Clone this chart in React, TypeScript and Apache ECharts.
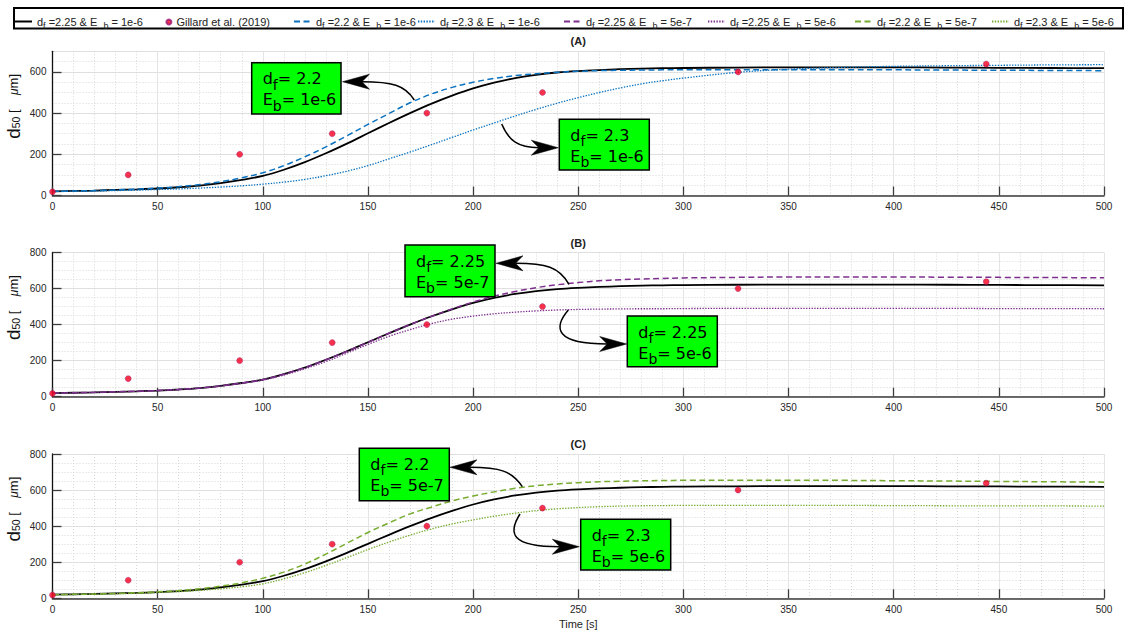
import React, { useEffect, useRef } from "react";
import * as echarts from "echarts";

// ---------- data ----------
const T = [0, 10, 20, 30, 40, 50, 60, 70, 80, 90, 100, 110, 120, 130, 140, 150, 160, 170, 180, 190, 200, 210, 220, 230, 240, 250, 260, 270, 280, 290, 300, 325, 350, 375, 400, 425, 450, 475, 500];

// d_f = 2.25 & E_b = 1e-6 (reference, black)
const BLACK = [20, 22, 24, 27, 30, 34, 40, 48, 60, 76, 95, 125, 162, 205, 252, 302, 352, 400, 445, 485, 520, 548, 570, 586, 597, 604, 609, 613, 616, 618, 619, 621, 622, 622, 622, 621, 620, 619, 618];
// d_f = 2.2 & E_b = 1e-6
const BLUE_DASH = [20, 22, 24, 27, 31, 36, 43, 53, 67, 86, 110, 145, 188, 236, 290, 345, 398, 450, 492, 525, 550, 568, 582, 591, 598, 603, 606, 608, 609, 610, 611, 611, 611, 610, 610, 609, 608, 607, 606];
// d_f = 2.3 & E_b = 1e-6
const BLUE_DOT = [20, 21, 22, 24, 26, 29, 32, 36, 41, 47, 55, 65, 78, 96, 118, 145, 178, 211, 246, 282, 318, 352, 386, 418, 448, 475, 500, 522, 542, 557, 570, 597, 613, 622, 627, 630, 632, 634, 635];
// d_f = 2.25 & E_b = 5e-7
const PURPLE_DASH = [20, 22, 24, 27, 30, 34, 40, 48, 60, 76, 95, 125, 162, 205, 252, 302, 352, 400, 445, 487, 525, 558, 584, 605, 621, 633, 643, 649, 653, 656, 659, 662, 664, 664, 664, 663, 662, 661, 660];
// d_f = 2.25 & E_b = 5e-6
const PURPLE_DOT = [20, 22, 24, 27, 30, 34, 40, 48, 59, 74, 92, 120, 155, 195, 242, 290, 335, 372, 405, 430, 447, 460, 469, 476, 481, 484, 486, 487, 488, 488, 489, 490, 490, 490, 490, 490, 489, 489, 488];
// d_f = 2.2 & E_b = 5e-7
const GREEN_DASH = [20, 22, 24, 27, 31, 36, 43, 53, 67, 86, 111, 145, 190, 245, 305, 365, 418, 468, 505, 540, 567, 590, 610, 624, 634, 641, 646, 649, 651, 653, 654, 655, 655, 654, 652, 650, 648, 646, 644];
// d_f = 2.3 & E_b = 5e-6
const GREEN_DOT = [20, 21, 23, 25, 28, 32, 37, 44, 53, 64, 80, 108, 142, 182, 226, 270, 312, 350, 384, 412, 434, 455, 472, 486, 496, 503, 508, 511, 513, 514, 515, 515, 515, 515, 514, 513, 512, 512, 511];

// Gillard et al. (2019)
const GILLARD_T = [0, 36, 89, 133, 178, 233, 326, 444];
const GILLARD_V = [18, 100, 200, 300, 400, 500, 600, 638];

const X_TICKS = { min: 0, max: 500, interval: 50 };
const PANEL_TITLES = ["(A)", "(B)", "(C)"];
const Y_MAX = [700, 800, 800];

const NAMES = ["k", "gil", "a_dash", "a_dot", "b_dash", "b_dot", "c_dash", "c_dot"];
const LEGEND_TEXT = [
  "{n|d}{s|f}{n| =2.25 & E  }{s|b}{n| = 1e-6}",
  "{n|Gillard et al. (2019)}",
  "{n|d}{s|f}{n| =2.2 & E  }{s|b}{n| = 1e-6}",
  "{n|d}{s|f}{n| =2.3 & E  }{s|b}{n| = 1e-6}",
  "{n|d}{s|f}{n| =2.25 & E  }{s|b}{n| = 5e-7}",
  "{n|d}{s|f}{n| =2.25 & E  }{s|b}{n| = 5e-6}",
  "{n|d}{s|f}{n| =2.2 & E  }{s|b}{n| = 5e-7}",
  "{n|d}{s|f}{n| =2.3 & E  }{s|b}{n| = 5e-6}",
];

// ---------- styles / layout ----------
const FONT = "'Liberation Sans', Arial, sans-serif";
const BOXFONT = "'DejaVu Sans', sans-serif";
const BLUE = "#0a72bf";
const PURPLE = "#7E2F8E";
const GREEN = "#77AC30";
const DASH = [6, 3.5];
const DOT = [1.4, 1.4];

const GRIDS = [
  { top: 51.3, height: 144.2 },
  { top: 252.5, height: 144.2 },
  { top: 454, height: 144.3 },
];
const GRID_LEFT = 52.5;
const GRID_RIGHT = 22;

const LEGEND_LEFT = [14, 165.4, 293, 417, 563, 707, 854, 991];

const ANNOTS = [
  { box: [251.7, 62.7, 89.3, 51.3], df: "2.2", eb: "1e-6", p0: [414.3, 100], c1: [405, 85], c2: [392, 81.7], tip: [342.5, 81.7], dir: -1 },
  { box: [559.3, 119.3, 90, 50.7], df: "2.3", eb: "1e-6", p0: [501.7, 124], c1: [509, 141], c2: [518, 147.7], tip: [558.3, 147.7], dir: 1 },
  { box: [405, 245, 90, 51.7], df: "2.25", eb: "5e-7", p0: [569, 284.3], c1: [559, 267], c2: [546, 263.3], tip: [496, 263.3], dir: -1 },
  { box: [627.3, 316, 90, 50.7], df: "2.25", eb: "5e-6", p0: [568.3, 310], c1: [553, 328], c2: [555, 344], tip: [626.7, 344], dir: 1 },
  { box: [359.3, 448.3, 90, 52.4], df: "2.2", eb: "5e-7", p0: [522.3, 486.7], c1: [512, 471], c2: [500, 467.3], tip: [450, 467.3], dir: -1 },
  { box: [580.7, 519.3, 90, 50.7], df: "2.3", eb: "5e-6", p0: [520, 514], c1: [508, 533], c2: [510, 546.7], tip: [579.3, 546.7], dir: 1 },
];

function pairs(xs: number[], ys: number[]) {
  return xs.map((x, i) => [x, ys[i]]);
}

function buildOption() {
  const grid = GRIDS.map((g) => ({
    left: GRID_LEFT,
    right: GRID_RIGHT,
    top: g.top,
    height: g.height,
    containLabel: false,
    outerBoundsMode: "none",
  }));

  const xAxis = GRIDS.map((_, g) => ({
    type: "value",
    gridIndex: g,
    min: X_TICKS.min,
    max: X_TICKS.max,
    interval: X_TICKS.interval,
    axisLine: { show: true, onZero: false, lineStyle: { color: "#3c3c3c", width: 1.6 } },
    axisTick: { show: true, inside: true, length: 9, lineStyle: { color: "#3c3c3c", width: 1.3 } },
    axisLabel: { fontSize: 10, color: "#262626", margin: 6, fontFamily: FONT },
    splitLine: { show: true, lineStyle: { color: "#e4e4e4", width: 1 } },
    minorTick: { show: false, splitNumber: 5 },
    minorSplitLine: { show: true, lineStyle: { color: "#d6d6d6", width: 1, type: [1, 2] } },
    name: g === 2 ? "Time [s]" : "",
    nameLocation: "middle",
    nameGap: 20,
    nameTextStyle: { fontSize: 11, color: "#262626", fontFamily: FONT },
  }));

  const yAxis: any[] = [];
  GRIDS.forEach((_, g) => {
    yAxis.push({
      type: "value",
      gridIndex: g,
      min: 0,
      max: Y_MAX[g],
      interval: 200,
      position: "left",
      axisLine: { show: true, onZero: false, lineStyle: { color: "#111", width: 1.3 } },
      axisTick: { show: true, inside: true, length: 9, lineStyle: { color: "#3c3c3c", width: 1.3 } },
      axisLabel: { fontSize: 10, color: "#262626", margin: 6, fontFamily: FONT, showMaxLabel: g !== 0 },
      splitLine: { show: true, lineStyle: { color: "#e4e4e4", width: 1 } },
      name: "{d|d}{s|50}{n| [    }{i|μ}{n|m]}",
      nameLocation: "middle",
      nameGap: 29,
      nameMoveOverlap: false,
      nameRotate: 90,
      nameTextStyle: {
        color: "#111",
        fontFamily: FONT,
        padding: [0, 0, 0, 34],
        rich: {
          d: { fontSize: 19, fontFamily: FONT, color: "#111", lineHeight: 20 },
          s: { fontSize: 10.5, fontFamily: FONT, color: "#111", lineHeight: 20, padding: [5, 0, 0, 0] },
          n: { fontSize: 13, fontFamily: FONT, color: "#111", lineHeight: 20 },
          i: { fontSize: 12, fontFamily: FONT, fontStyle: "italic", color: "#111", lineHeight: 20 },
        },
      },
    });
    yAxis.push({
      type: "value",
      gridIndex: g,
      min: 0,
      max: Y_MAX[g],
      interval: 50,
      position: "right",
      axisLine: { show: false },
      axisTick: { show: false },
      axisLabel: { show: false },
      splitLine: { show: true, lineStyle: { color: "#d6d6d6", width: 1, type: [1, 2] } },
    });
  });

  const panels = [
    { dash: BLUE_DASH, dot: BLUE_DOT, color: BLUE, dashName: NAMES[2], dotName: NAMES[3] },
    { dash: PURPLE_DASH, dot: PURPLE_DOT, color: PURPLE, dashName: NAMES[4], dotName: NAMES[5] },
    { dash: GREEN_DASH, dot: GREEN_DOT, color: GREEN, dashName: NAMES[6], dotName: NAMES[7] },
  ];

  const series: any[] = [];
  panels.forEach((p, g) => {
    const common = {
      type: "line",
      xAxisIndex: g,
      yAxisIndex: g * 2,
      showSymbol: false,
      symbol: "none",
      smooth: 0.35,
      emphasis: { disabled: true },
      silent: true,
    };
    series.push({ ...common, name: NAMES[0], data: pairs(T, BLACK), lineStyle: { color: "#000", width: 1.8, type: "solid" }, itemStyle: { color: "#000" }, z: 2 });
    series.push({ ...common, name: p.dashName, data: pairs(T, p.dash), lineStyle: { color: p.color, width: 1.5, type: DASH }, itemStyle: { color: p.color }, z: 3 });
    series.push({ ...common, name: p.dotName, data: pairs(T, p.dot), lineStyle: { color: p.color, width: 1.3, type: DOT }, itemStyle: { color: p.color }, z: 3 });
    series.push({
      type: "scatter",
      name: NAMES[1],
      xAxisIndex: g,
      yAxisIndex: g * 2,
      data: pairs(GILLARD_T, GILLARD_V),
      symbol: "circle",
      symbolSize: 6,
      itemStyle: { color: "#f5001e", borderColor: "#9a1a7a", borderWidth: 0.5 },
      emphasis: { disabled: true },
      silent: true,
      z: 5,
    });
  });

  const legendRich = {
    n: { fontSize: 11, fontFamily: FONT, color: "#222", lineHeight: 14 },
    s: { fontSize: 9, fontFamily: FONT, color: "#222", lineHeight: 14, padding: [8, 0, 0, 0] },
  };
  const legend = NAMES.map((name, i) => ({
    show: true,
    data: [name],
    left: LEGEND_LEFT[i],
    top: i === 1 ? 16.5 : 13,
    orient: "horizontal",
    itemWidth: i === 1 ? 5 : 17,
    itemHeight: i === 1 ? 5 : 12,
    itemGap: 0,
    padding: 0,
    selectedMode: false,
    itemStyle: i === 1 ? {} : { opacity: 0, borderWidth: 0 },
    formatter: (nm: string) => LEGEND_TEXT[NAMES.indexOf(nm)],
    textStyle: { fontSize: 11, fontFamily: FONT, color: "#222", rich: legendRich },
    z: 10,
  }));

  const graphic: any[] = [];
  graphic.push({
    type: "rect",
    shape: { x: 14, y: 8, width: 1109, height: 20.5 },
    style: { fill: "#fff", stroke: "#000", lineWidth: 2 },
    z: 1,
  });
  GRIDS.forEach((g, i) => {
    graphic.push({
      type: "text",
      x: GRID_LEFT + (1126 - GRID_LEFT - GRID_RIGHT) / 2,
      y: g.top - 10,
      style: { text: PANEL_TITLES[i], fontSize: 11, fontWeight: "bold", fontFamily: FONT, fill: "#222", align: "center", verticalAlign: "middle" },
      z: 10,
    });
  });

  const L = 27;
  const W = 7.5;
  const boxRich = {
    n: { fontSize: 16, fontFamily: BOXFONT, fill: "#000", lineHeight: 21 },
    s: { fontSize: 14, fontFamily: BOXFONT, fill: "#000", lineHeight: 21, padding: [12, 0, 0, 0] },
  };
  ANNOTS.forEach((a) => {
    const [bx, by, bw, bh] = a.box;
    graphic.push({
      type: "rect",
      shape: { x: bx, y: by, width: bw, height: bh },
      style: { fill: "#00ff00", stroke: "#000", lineWidth: 1.5 },
      z: 100,
    });
    graphic.push({
      type: "text",
      x: bx + 11,
      y: by + 5.5,
      style: {
        text: `{n|d}{s|f}{n|= ${a.df}}\n{n|E}{s|b}{n|= ${a.eb}}`,
        rich: boxRich,
        align: "left",
        verticalAlign: "top",
      },
      z: 101,
    });
    const [tx, ty] = a.tip;
    const d = a.dir;
    const notchX = tx - d * L * 0.72;
    graphic.push({
      type: "bezierCurve",
      shape: { x1: a.p0[0], y1: a.p0[1], cpx1: a.c1[0], cpy1: a.c1[1], cpx2: a.c2[0], cpy2: a.c2[1], x2: notchX, y2: ty },
      style: { stroke: "#000", lineWidth: 1.5, fill: null },
      z: 100,
    });
    graphic.push({
      type: "polygon",
      shape: {
        points: [
          [tx, ty],
          [tx - d * L, ty - W],
          [notchX, ty],
          [tx - d * L, ty + W],
        ],
      },
      style: { fill: "#000", stroke: "#000", lineWidth: 0.5 },
      z: 101,
    });
  });

  return {
    animation: false,
    backgroundColor: "#fff",
    grid,
    xAxis,
    yAxis,
    legend,
    series,
    graphic,
    tooltip: { show: false },
  };
}

export default function App() {
  const ref = useRef<HTMLDivElement>(null);
  useEffect(() => {
    if (!ref.current) return;
    const chart = echarts.init(ref.current, null, { renderer: "svg" });
    chart.setOption(buildOption() as any);
    return () => chart.dispose();
  }, []);
  return (
    <div
      ref={ref}
      style={{ width: 1126, height: 633, position: "absolute", left: 0, top: 0, background: "#fff" }}
    />
  );
}
